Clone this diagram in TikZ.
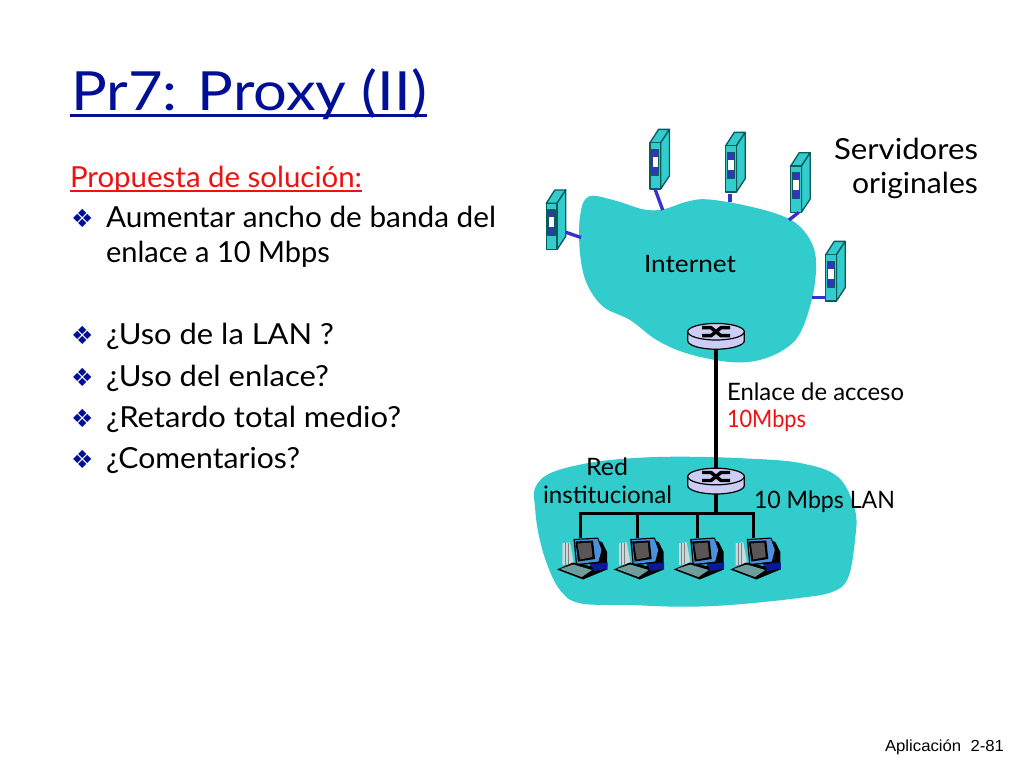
\documentclass[tikz,border=0pt]{standalone}
\usepackage{graphicx}
\usepackage{fontspec}
\setmainfont{Lato}
\newfontfamily\dejavu{DejaVu Sans}
\newfontfamily\arialish{Liberation Sans}
\definecolor{cloudteal}{HTML}{33CCCC}
\definecolor{titleblue}{HTML}{000F96}
\definecolor{linkblue}{HTML}{3A2FCF}
\definecolor{edgeteal}{HTML}{0B5A5E}
\definecolor{panelblue}{HTML}{3333BB}
\definecolor{routerfill}{HTML}{CCCCF5}
\definecolor{redtext}{HTML}{F01010}
\definecolor{bulletblue}{HTML}{000F96}
\definecolor{pcscreen}{HTML}{5A5656}
\definecolor{pcrim}{HTML}{4A90DC}
\definecolor{pctower}{HTML}{C8D8DC}
\definecolor{pcbase}{HTML}{0A1A96}
\definecolor{pckeys}{HTML}{6F9C9C}
\newcommand{\pxfont}[1]{\fontsize{\dimexpr#1pt*3/4\relax}{\dimexpr#1pt*3/4\relax}\selectfont}
\newcommand{\hfit}[2]{\resizebox{\dimexpr#1pt*3/4\relax}{\height}{#2}}
\tikzset{
  x=0.75pt,y=-0.75pt,
  txt/.style={anchor=base west,inner sep=0pt,outer sep=0pt},
  txtc/.style={anchor=base,inner sep=0pt,outer sep=0pt},
  txte/.style={anchor=base east,inner sep=0pt,outer sep=0pt},
  bodytext/.style={txt,font=\pxfont{29}},
  bulletmark/.style={txt,font=\dejavu\pxfont{25},text=bulletblue},
  smalltext/.style={font=\pxfont{24}},
  srvlink/.style={draw=linkblue,line width=2.5pt},
  wire/.style={draw=black,line width=2.4pt},
  servericon/.pic={
    \coordinate (-left) at (0,43);
    \coordinate (-right) at (19.5,29);
    \coordinate (-bottom) at (8,46.3);
    \coordinate (-mid) at (5,46.3);
    \begin{scope}[draw=edgeteal,line width=1pt,line join=round]
      \filldraw[fill=cloudteal] (0,0) -- (8.5,-13.3) -- (19.5,-13.3) -- (10.7,0) -- cycle;
      \filldraw[fill=cloudteal] (10.7,0) -- (19.5,-13.3) -- (19.5,33) -- (10.7,46.3) -- cycle;
      \filldraw[fill=cloudteal] (0,0) rectangle (10.7,46.3);
      \filldraw[fill=panelblue] (1.7,6.7) rectangle (8.7,32.3);
      \fill[white] (2.7,14) rectangle (8,24);
    \end{scope}
  },
  routericon/.pic={
    \coordinate (-top) at (0,-8);
    \coordinate (-bottom) at (0,17);
    \filldraw[fill=routerfill,draw=black,line width=0.9pt] (-28.3,0) -- (-28.3,9) arc[start angle=180,end angle=0,x radius=28.3,y radius=8.5] -- (28.3,0) -- cycle;
    \filldraw[fill=routerfill,draw=black,line width=0.9pt] (0,0) ellipse[x radius=28.3,y radius=8.3];
    \draw[line width=2.6pt,black] (-14,-4) -- (-5,-4) -- (5,4) -- (14,4);
    \draw[line width=2.6pt,black] (-14,4) -- (-5,4) -- (5,-4) -- (14,-4);
  },
  pcicon/.pic={
    \coordinate (-top) at (25.3,6);
    \fill[pctower] (7.3,11.3) -- (15,10.3) -- (19,32) -- (7.3,33) -- cycle;
    \draw[gray,line width=0.6pt] (10,11.3) -- (10,32.5) (13,10.8) -- (13,32.2);
    \fill[black] (38,7) -- (47,10) -- (52,20) -- (52,34) -- (40,36) -- cycle;
    \fill[pcbase] (34,30.5) -- (52.5,30.5) -- (52.5,37.5) -- (38,39) -- cycle;
    \fill[black] (18.5,7) -- (43,5.5) -- (48,18) -- (45,31) -- (21,33.5) -- cycle;
    \fill[pcrim] (20,8) -- (42.5,6.8) -- (46.5,18) -- (43.5,29.5) -- (22,32) -- cycle;
    \fill[black] (20.5,9.5) -- (38,8.5) -- (40,27) -- (23,29.5) -- cycle;
    \fill[pcscreen] (22.5,11.5) -- (36,10.5) -- (37.5,25) -- (25,27.5) -- cycle;
    \fill[black] (2,37.5) -- (18,30.5) -- (52,37.5) -- (28,47.5) -- cycle;
    \fill[pcbase] (36,33) -- (52,33.5) -- (51,37) -- (39,39) -- cycle;
    \fill[pckeys] (5,37) -- (18.3,32.5) -- (37,38) -- (26.7,45) -- cycle;
  },
}
\begin{document}
\begin{tikzpicture}
\useasboundingbox (0,0) rectangle (1024,768);
\fill[white] (0,0) rectangle (1024,768);

% clouds
\fill[cloudteal] plot[smooth cycle,tension=0.6] coordinates {(588.3,196.7) (613.3,200) (643.3,209.3) (663.3,209.3) (686.7,201.7) (706.7,199.3) (743.3,205) (780,215) (800,226.7) (813.3,246.7) (816,270) (811.7,300) (800,333.3) (783.3,350) (756.7,360.7) (726.7,361.7) (686.7,353.3) (656.7,340) (630,320) (603.3,306.7) (586.7,283.3) (580,253.3) (580,216.7)};
\fill[cloudteal] plot[smooth cycle,tension=0.6] coordinates {(535,488) (550,473.3) (586.7,463.3) (630,458.3) (680,456.7) (743.3,458.3) (800,463) (838,477) (855,510) (855,540) (848,578) (832,592) (796.7,598.3) (730,605) (680,606.7) (630,605) (580,603.3) (560,590) (546.7,563.3) (538.3,533) (535,506.7)};

% servers
\pic (s1) at (546.3,203.3) {servericon};
\pic (s2) at (650,142.7) {servericon};
\pic (s3) at (725.7,145.7) {servericon};
\pic (s4) at (790.7,166) {servericon};
\pic (s5) at (825.7,254.7) {servericon};

% cloud attachment points
\coordinate (e1) at (581,237.5);
\coordinate (e2) at (662.7,210);
\coordinate (e3) at (730,201.5);
\coordinate (e4) at (789,220);
\coordinate (e5) at (811.5,297.7);
\coordinate (g3) at (730,194);

\draw[srvlink] (s1-right) -- (e1);
\draw[srvlink] (s2-mid) -- (e2);
\draw[srvlink] (g3) -- (e3);
\draw[srvlink] (s4-bottom) -- (e4);
\draw[srvlink] (s5-left) -- (e5);

% routers
\pic (r1) at (716,331.7) {routericon};
\pic (r2) at (716,476.5) {routericon};

% bus
\coordinate (busl) at (579.3,513.5);
\coordinate (busj) at (716,513.5);
\coordinate (busr) at (755,513.5);
\coordinate (d1) at (580.5,513.5);
\coordinate (d2) at (637.3,513.5);
\coordinate (d3) at (697.7,513.5);
\coordinate (d4) at (753.7,513.5);

\pic (c1) at (555,532) {pcicon};
\pic (c2) at (611.7,532) {pcicon};
\pic (c3) at (671.7,532) {pcicon};
\pic (c4) at (728.3,532) {pcicon};

\draw[wire] (r1-bottom) -- (r2-top);
\draw[wire] (r2-bottom) -- (busj);
\draw[wire] (busl) -- (busr);
\draw[wire] (d1) -- (d1 |- c1-top);
\draw[wire] (d2) -- (d2 |- c2-top);
\draw[wire] (d3) -- (d3 |- c3-top);
\draw[wire] (d4) -- (d4 |- c4-top);

% title
\node[txt,font=\pxfont{54},text=titleblue] (title) at (71,110) {\hfit{356}{Pr7: Proxy (II)}};
\draw[titleblue,line width=1.9pt] (70,115.5) -- (427,115.5);

% left text
\node[txt,font=\pxfont{29},text=redtext] (prop) at (70,187) {\hfit{292}{Propuesta de solución:}};
\draw[redtext,line width=1.4pt] (70,191) -- (362,191);

\node[bulletmark] (b1) at (71,227) {❖};
\node[bodytext] (t1) at (106,227) {\hfit{390}{Aumentar ancho de banda del}};
\node[bodytext] (t1b) at (106,262) {\hfit{224}{enlace a 10 Mbps}};
\node[bulletmark] (b2) at (71,344) {❖};
\node[bodytext] (t2) at (106,344) {\hfit{228}{¿Uso de la LAN ?}};
\node[bulletmark] (b3) at (71,386) {❖};
\node[bodytext] (t3) at (106,386) {\hfit{223}{¿Uso del enlace?}};
\node[bulletmark] (b4) at (71,427) {❖};
\node[bodytext] (t4) at (106,427) {\hfit{295}{¿Retardo total medio?}};
\node[bulletmark] (b5) at (71,468) {❖};
\node[bodytext] (t5) at (106,468) {\hfit{194}{¿Comentarios?}};

% diagram labels
\node[txte,font=\pxfont{29}] (o1) at (978,159) {\hfit{144}{Servidores}};
\node[txte,font=\pxfont{29}] (o2) at (978,193) {\hfit{126}{originales}};
\node[txt,smalltext] (inet) at (644,272) {\hfit{92}{Internet}};
\node[txt,smalltext] (enl) at (727,400) {\hfit{177}{Enlace de acceso}};
\node[txt,smalltext,text=redtext] (mb) at (727,427) {\hfit{79}{10Mbps}};
\node[txtc,smalltext] (red) at (607,475) {\hfit{42}{Red}};
\node[txtc,smalltext] (inst) at (607.5,503) {\hfit{129}{institucional}};
\node[txt,smalltext] (lan) at (754,508) {\hfit{141}{10 Mbps LAN}};

\node[txte,font=\arialish\pxfont{16}] (footer) at (1004,751) {\hfit{119}{Aplicación\ \ 2-81}};
\end{tikzpicture}
\end{document}
